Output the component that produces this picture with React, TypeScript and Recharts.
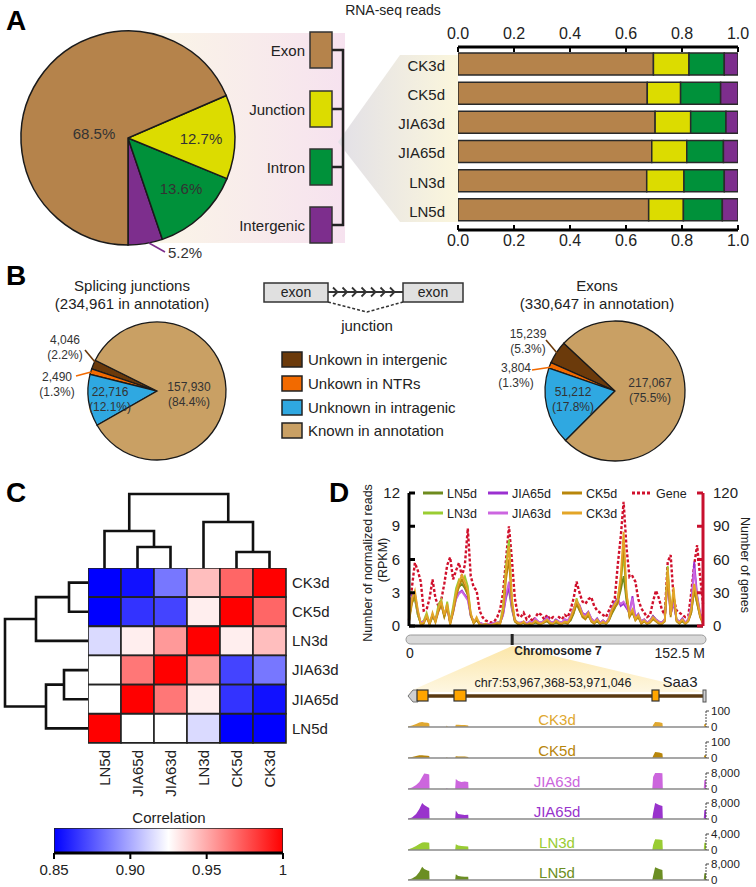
import React from 'react';
import {
  PieChart, Pie, Cell, BarChart, Bar, XAxis, YAxis, ComposedChart, Line,
  ScatterChart, Scatter, AreaChart, Area, ReferenceLine,
} from 'recharts';

const FONT = "'Liberation Sans', Arial, Helvetica, sans-serif";
const INK = '#222';

/* ---------------- Panel A data ---------------- */
const readTypes = ['Exon', 'Junction', 'Intron', 'Intergenic'];
const readColors = ['#B5834B', '#DCDC00', '#00913A', '#7D2E8D'];
const overallPct = [68.5, 12.7, 13.6, 5.2];
const samplesA = ['CK3d', 'CK5d', 'JIA63d', 'JIA65d', 'LN3d', 'LN5d'];
const exonFrac = [0.698, 0.676, 0.704, 0.692, 0.674, 0.681];
const junctionFrac = [0.127, 0.119, 0.127, 0.125, 0.133, 0.124];
const intronFrac = [0.126, 0.143, 0.126, 0.131, 0.144, 0.139];
const intergenicFrac = [0.049, 0.062, 0.043, 0.052, 0.049, 0.056];
const fracTicks = [0, 0.2, 0.4, 0.6, 0.8, 1.0];

/* ---------------- Panel B data ---------------- */
const novelCats = ['Unkown in intergenic', 'Unkown in NTRs', 'Unknown in intragenic', 'Known in annotation'];
const novelColors = ['#6B3A0B', '#F26A00', '#2FA8E1', '#C9A064'];
const junctionCounts = [4046, 2490, 22716, 157930];
const exonCounts = [15239, 3804, 51212, 217067];

/* ---------------- Panel C data ---------------- */
const heatRows = ['CK3d', 'CK5d', 'LN3d', 'JIA63d', 'JIA65d', 'LN5d'];
const heatCols = ['LN5d', 'JIA65d', 'JIA63d', 'LN3d', 'CK5d', 'CK3d'];
const corrCK3d = [0.85, 0.855, 0.885, 0.944, 0.97, 1.0];
const corrCK5d = [0.85, 0.865, 0.87, 0.93, 1.0, 0.97];
const corrLN3d = [0.914, 0.93, 0.955, 1.0, 0.93, 0.944];
const corrJIA63d = [0.925, 0.965, 1.0, 0.955, 0.87, 0.885];
const corrJIA65d = [0.925, 1.0, 0.965, 0.93, 0.865, 0.855];
const corrLN5d = [1.0, 0.925, 0.925, 0.914, 0.85, 0.85];
const corrMatrix = [corrCK3d, corrCK5d, corrLN3d, corrJIA63d, corrJIA65d, corrLN5d];
const colorbarRange = [0.85, 1];
const colorbarTicks = [0.85, 0.9, 0.95, 1];
const topTreeMerges: [string, string, number][] = [
  ['JIA65d', 'JIA63d', 2.1], ['LN5d', 'm0', 3.7], ['CK5d', 'CK3d', 1.6], ['LN3d', 'm2', 4.6], ['m1', 'm3', 7.4],
];
const leftTreeMerges: [string, string, number][] = [
  ['CK3d', 'CK5d', 1.9], ['m0', 'LN3d', 5.2], ['JIA63d', 'JIA65d', 2.4], ['m2', 'LN5d', 4.2], ['m1', 'm3', 8.3],
];

/* ---------------- Panel D data ---------------- */
const geneCounts = [
  5, 35, 57, 50, 40, 14, 15, 25, 42, 25,
  18, 24, 38, 55, 62, 42, 50, 57, 45, 55,
  88, 45, 35, 32, 14, 8, 5, 4, 3, 4,
  8, 15, 30, 60, 90, 60, 25, 10, 8, 12,
  6, 9, 4, 8, 12, 10, 6, 10, 6, 8,
  5, 8, 6, 10, 8, 15, 25, 40, 30, 22,
  20, 24, 26, 18, 14, 12, 10, 8, 14, 20,
  25, 55, 80, 112, 70, 44, 45, 40, 24, 16,
  12, 8, 10, 22, 32, 25, 15, 10, 58, 64,
  25, 14, 12, 10, 8, 9, 30, 55, 73, 45, 20,
];
const readsCK3d = [
  0.5, 2.5, 3.2, 1.5, 0.2, 0.3, 1.0, 0.2, 1.2, 0.4,
  1.6, 2.2, 1.0, 2.0, 0.2, 1.5, 3.0, 4.0, 4.6, 4.0,
  3.2, 1.2, 0.3, 0.8, 0.2, 0.1, 0.2, 0.1, 0.1, 0.2,
  0.3, 0.2, 1.5, 5.0, 7.2, 2.5, 0.5, 0.3, 0.2, 0.4,
  0.1, 0.3, 0.2, 0.5, 0.3, 0.2, 0.4, 0.6, 0.3, 0.2,
  0.5, 0.3, 0.2, 0.4, 0.3, 0.8, 1.5, 2.3, 1.8, 1.0,
  0.8, 1.2, 0.5, 0.3, 0.6, 0.2, 0.4, 0.2, 0.6, 1.5,
  2.0, 2.4, 4.5, 8.5, 3.0, 1.0, 1.5, 0.6, 1.0, 0.3,
  0.5, 0.2, 0.4, 0.8, 0.5, 0.3, 0.2, 0.5, 5.2, 1.0,
  3.5, 0.5, 0.3, 0.6, 0.2, 0.5, 1.5, 3.8, 2.5, 1.0, 0.3,
];
const readsCK5d = [
  0.4, 2.0, 2.8, 1.2, 0.1, 0.2, 0.8, 0.1, 1.0, 0.3,
  1.3, 1.9, 0.8, 1.7, 0.1, 1.2, 2.6, 3.6, 4.2, 3.6,
  2.8, 1.0, 0.2, 0.6, 0.1, 0.1, 0.1, 0.1, 0.1, 0.1,
  0.2, 0.2, 1.2, 4.2, 6.0, 2.0, 0.4, 0.2, 0.2, 0.3,
  0.1, 0.2, 0.2, 0.4, 0.2, 0.2, 0.3, 0.5, 0.2, 0.2,
  0.4, 0.2, 0.2, 0.3, 0.2, 0.6, 1.2, 2.0, 1.5, 0.8,
  0.6, 1.0, 0.4, 0.2, 0.5, 0.2, 0.3, 0.2, 0.5, 1.2,
  1.7, 2.0, 3.8, 7.5, 2.6, 0.8, 1.3, 0.5, 0.8, 0.2,
  0.4, 0.2, 0.3, 0.6, 0.4, 0.2, 0.2, 0.4, 4.5, 0.8,
  3.0, 0.4, 0.2, 0.5, 0.2, 0.4, 1.2, 3.3, 2.1, 0.8, 0.2,
];
const readsLN3d = [
  0.8, 3.0, 2.6, 1.0, 0.3, 0.5, 1.2, 0.3, 0.9, 0.6,
  1.9, 2.4, 0.8, 2.2, 0.4, 1.8, 3.4, 4.2, 4.0, 4.5,
  3.6, 1.0, 0.4, 0.6, 0.3, 0.1, 0.2, 0.1, 0.2, 0.2,
  0.3, 0.4, 1.8, 5.5, 7.8, 2.2, 0.6, 0.3, 0.2, 0.3,
  0.2, 0.3, 0.3, 0.4, 0.3, 0.3, 0.5, 0.5, 0.3, 0.3,
  0.4, 0.3, 0.3, 0.5, 0.4, 0.7, 1.3, 2.5, 1.6, 1.1,
  0.9, 1.0, 0.6, 0.4, 0.5, 0.3, 0.5, 0.3, 0.7, 1.3,
  1.8, 2.6, 4.0, 6.3, 2.8, 1.2, 1.4, 0.8, 0.9, 0.4,
  0.6, 0.3, 0.5, 0.9, 0.6, 0.4, 0.3, 0.6, 5.4, 1.2,
  2.8, 0.6, 0.4, 0.5, 0.3, 0.6, 1.4, 3.5, 2.2, 1.1, 0.4,
];
const readsLN5d = [
  0.6, 2.2, 2.4, 1.0, 0.2, 0.4, 0.9, 0.2, 0.8, 0.5,
  1.5, 2.0, 0.9, 1.8, 0.3, 1.4, 2.8, 3.5, 3.8, 3.4,
  2.8, 0.9, 0.3, 0.5, 0.2, 0.1, 0.1, 0.1, 0.1, 0.2,
  0.2, 0.3, 1.2, 3.0, 3.2, 1.5, 0.4, 0.2, 0.2, 0.3,
  0.1, 0.2, 0.2, 0.3, 0.2, 0.2, 0.4, 0.4, 0.2, 0.2,
  0.3, 0.2, 0.2, 0.4, 0.3, 0.5, 1.1, 2.0, 1.4, 0.9,
  0.7, 0.9, 0.5, 0.3, 0.4, 0.2, 0.4, 0.2, 0.5, 1.1,
  1.6, 2.2, 3.2, 4.5, 2.2, 0.9, 1.2, 0.6, 0.8, 0.3,
  0.5, 0.2, 0.4, 0.7, 0.5, 0.3, 0.2, 0.5, 4.8, 1.0,
  2.5, 0.5, 0.3, 0.4, 0.2, 0.5, 1.2, 3.2, 2.0, 0.9, 0.3,
];
const readsJIA65d = [
  0.7, 2.8, 3.0, 1.3, 0.3, 0.4, 0.8, 0.3, 1.0, 0.5,
  1.4, 2.0, 1.1, 1.6, 0.3, 1.3, 2.5, 3.0, 3.2, 2.8,
  2.5, 1.0, 0.4, 0.6, 0.3, 0.2, 0.2, 0.2, 0.2, 0.3,
  0.3, 0.3, 1.0, 2.5, 3.5, 1.8, 0.5, 0.3, 0.3, 0.4,
  0.2, 0.4, 0.3, 0.6, 0.4, 0.3, 0.5, 0.8, 0.4, 0.3,
  0.6, 0.4, 0.3, 0.6, 0.5, 0.9, 1.6, 2.2, 1.9, 1.2,
  1.0, 1.3, 0.7, 0.4, 0.7, 0.3, 0.5, 0.3, 0.7, 1.6,
  2.2, 2.5, 1.8, 2.0, 1.6, 1.2, 2.7, 0.8, 1.1, 0.4,
  0.6, 0.3, 0.5, 0.9, 0.6, 0.4, 0.3, 0.6, 4.2, 1.1,
  2.0, 0.6, 0.4, 0.7, 0.3, 0.6, 1.8, 5.8, 2.8, 1.2, 0.4,
];
const readsJIA63d = [
  0.6, 2.6, 2.9, 1.2, 0.3, 0.4, 0.7, 0.3, 0.9, 0.5,
  1.3, 1.9, 1.0, 1.5, 0.3, 1.2, 2.4, 2.9, 3.1, 2.7,
  2.3, 0.9, 0.4, 0.6, 0.3, 0.2, 0.2, 0.2, 0.2, 0.3,
  0.3, 0.3, 1.0, 2.8, 4.0, 1.6, 0.5, 0.3, 0.3, 0.4,
  0.2, 0.4, 0.3, 0.7, 0.4, 0.3, 0.5, 0.7, 0.4, 0.3,
  0.5, 0.4, 0.3, 0.6, 0.5, 0.9, 1.5, 2.1, 1.8, 1.1,
  0.9, 1.2, 0.7, 0.4, 0.6, 0.3, 0.5, 0.3, 0.7, 1.5,
  2.0, 2.3, 2.0, 2.2, 1.8, 1.1, 2.5, 0.7, 1.0, 0.4,
  0.6, 0.3, 0.5, 0.8, 0.6, 0.4, 0.3, 0.6, 4.0, 1.0,
  2.2, 0.6, 0.4, 0.6, 0.3, 0.6, 1.7, 5.2, 2.6, 1.1, 0.4,
];
const readTicks = [0, 3, 6, 9, 12];
const geneTicks = [0, 30, 60, 90, 120];
const chromLengthMb = 152.5;
const locusStart = 53967368;
const locusEnd = 53971046;

/* coverage tracks (bp offsets from locus start) */
const trackPos = [0, 50, 100, 140, 175, 200, 240, 262, 266, 470, 480, 490, 582, 590, 620, 660, 700, 743, 747, 3015, 3025, 3050, 3100, 3140, 3145, 3650, 3658, 3678];
const covCK3d = [3, 9, 19, 28, 31, 28, 26, 22, 0, 0, 9, 0, 0, 14, 14, 12, 12, 9, 0, 0, 12, 31, 30, 25, 0, 0, 19, 19];
const covCK5d = [2, 6, 12, 17, 17, 16, 14, 12, 0, 0, 5, 0, 0, 11, 10, 9, 9, 6, 0, 0, 12, 37, 34, 28, 0, 0, 17, 17];
const covJIA63d = [150, 750, 2000, 3500, 6000, 7750, 7500, 7250, 0, 0, 500, 0, 0, 5000, 4000, 3500, 3750, 3500, 0, 0, 6000, 8000, 8000, 7900, 0, 0, 4500, 4500];
const covJIA65d = [150, 750, 2500, 5000, 8000, 7000, 6000, 5500, 0, 0, 0, 0, 0, 4250, 2500, 2250, 2000, 2100, 0, 0, 3000, 8000, 7000, 6500, 0, 0, 4500, 4500];
const covLN3d = [125, 500, 1000, 1500, 1875, 1925, 1875, 1825, 0, 0, 0, 0, 0, 1425, 1125, 1000, 950, 875, 0, 0, 1250, 2675, 2625, 2500, 0, 0, 1825, 1825];
const covLN5d = [150, 750, 2000, 4000, 6650, 5500, 4750, 4500, 0, 0, 0, 0, 0, 2850, 2000, 1750, 1650, 1600, 0, 0, 2000, 6350, 5500, 5000, 0, 0, 3350, 3350];
const trackNames = ['CK3d', 'CK5d', 'JIA63d', 'JIA65d', 'LN3d', 'LN5d'];
const trackMax = [100, 100, 8000, 8000, 4000, 8000];
const trackCov = [covCK3d, covCK5d, covJIA63d, covJIA65d, covLN3d, covLN5d];

/* ---------------- styles ---------------- */
const seriesColor: Record<string, string> = {
  LN5d: '#6E8B1E', LN3d: '#9ACD32', JIA65d: '#9B30D0', JIA63d: '#CC66E0', CK5d: '#B8860B', CK3d: '#E3A527', Gene: '#D0102C',
};
const trackBaseY = [727, 758, 789, 819, 850, 880];
const trackLabelColor = ['#E0A830', '#B8860B', '#CC66DD', '#9933CC', '#99CC33', '#6B8E23'];

const abs = (left: number, top: number): React.CSSProperties => ({ position: 'absolute', left, top });

/* ---------------- derived tables ---------------- */
const pieAData = [3, 2, 1, 0].map((k) => ({ name: readTypes[k], value: overallPct[k], color: readColors[k] }));
const barData = samplesA.map((name, k) => ({
  name, Exon: exonFrac[k], Junction: junctionFrac[k], Intron: intronFrac[k], Intergenic: intergenicFrac[k],
}));
const pieB1Data = novelCats.map((name, k) => ({ name, value: junctionCounts[k] }));
const pieB2Data = novelCats.map((name, k) => ({ name, value: exonCounts[k] }));
const heatData = heatRows.map((row) => {
  const o: any = { row };
  heatCols.forEach((_, ci) => { o['c' + ci] = 1; });
  return o;
});
const colorbarData = [{ name: 'Correlation', range: colorbarRange }];
const dSeries = [
  { key: 'LN5d', vals: readsLN5d }, { key: 'LN3d', vals: readsLN3d },
  { key: 'JIA65d', vals: readsJIA65d }, { key: 'JIA63d', vals: readsJIA63d },
  { key: 'CK5d', vals: readsCK5d }, { key: 'CK3d', vals: readsCK3d },
];
const dData = geneCounts.map((g, i) => {
  const o: any = { i, gene: g };
  dSeries.forEach((s) => { o[s.key] = s.vals[i]; });
  return o;
});
const trackData = trackPos.map((pos, k) => {
  const o: any = { pos };
  trackNames.forEach((n, t) => { o[n] = trackCov[t][k]; });
  return o;
});

function buildTree(leaves: string[], merges: [string, string, number][]) {
  const pos: Record<string, number> = {};
  const ht: Record<string, number> = {};
  leaves.forEach((l, i) => { pos[l] = i + 0.5; ht[l] = 0; });
  return merges.map(([a, b, h], k) => {
    const seg = [
      { p: pos[a], h: ht[a] }, { p: pos[a], h }, { p: pos[b], h }, { p: pos[b], h: ht[b] },
    ];
    pos['m' + k] = (pos[a] + pos[b]) / 2;
    ht['m' + k] = h;
    return seg;
  });
}
const topTree = buildTree(heatCols, topTreeMerges).map((s) => s.map((q) => ({ x: q.p, y: q.h })));
const leftTree = buildTree(heatRows, leftTreeMerges).map((s) => s.map((q) => ({ x: q.h, y: q.p })));

function corrColor(v: number) {
  const mid = 0.925;
  if (v <= mid) {
    const t = Math.max(0, (v - 0.85) / (mid - 0.85));
    const c = Math.round(255 * t);
    return `rgb(${c},${c},255)`;
  }
  const t = Math.min(1, (v - mid) / (1 - mid));
  const c = Math.round(255 * (1 - t));
  return `rgb(255,${c},${c})`;
}

/* ---------------- labels & ticks ---------------- */
type Off = { dx: number; dy: number; line?: [number, number, number, number]; anchor?: 'start' | 'middle' | 'end' };
const pieALabelOff: Off[] = [
  { dx: 40, dy: 120, line: [21, 105, 37, 114], anchor: 'start' },
  { dx: 53, dy: 55.5 },
  { dx: 73, dy: 5.5 },
  { dx: -34, dy: 0.5 },
];
const pieB1Off: Off[] = [
  { dx: -92, dy: -47.5, line: [-72, -41, -62, -29] },
  { dx: -100, dy: -10.5, line: [-81, -15, -66, -19] },
  { dx: -47, dy: 4.5 },
  { dx: 32, dy: -0.5 },
];
const pieB2Off: Off[] = [
  { dx: -87, dy: -53.5, line: [-69, -51, -58, -38] },
  { dx: -99, dy: -19.5, line: [-83, -21, -63, -24] },
  { dx: -42, dy: 4.5 },
  { dx: 35, dy: -4.5 },
];

const pieALabel = (p: any) => {
  const o = pieALabelOff[p.index];
  const d = pieAData[p.index];
  return (
    <g>
      {o.line && (
        <line x1={p.cx + o.line[0]} y1={p.cy + o.line[1]} x2={p.cx + o.line[2]} y2={p.cy + o.line[3]} stroke={d.color} strokeWidth={1.6} />
      )}
      <text x={p.cx + o.dx} y={p.cy + o.dy} textAnchor={o.anchor || 'middle'} fontSize={15} fill="#333" fontFamily={FONT}>
        {d.value.toFixed(1)}%
      </text>
    </g>
  );
};

const makePieBLabel = (offs: Off[], counts: number[]) => (p: any) => {
  const o = offs[p.index];
  const total = counts.reduce((a, b) => a + b, 0);
  const v = counts[p.index];
  const pct = ((v / total) * 100).toFixed(1);
  return (
    <g>
      {o.line && (
        <line x1={p.cx + o.line[0]} y1={p.cy + o.line[1]} x2={p.cx + o.line[2]} y2={p.cy + o.line[3]} stroke={novelColors[p.index]} strokeWidth={1.6} />
      )}
      <text x={p.cx + o.dx} y={p.cy + o.dy} textAnchor="middle" fontSize={12} fill="#333" fontFamily={FONT}>
        {v.toLocaleString('en-US')}
      </text>
      <text x={p.cx + o.dx} y={p.cy + o.dy + 15.5} textAnchor="middle" fontSize={12} fill="#333" fontFamily={FONT}>
        ({pct}%)
      </text>
    </g>
  );
};

const FracTickTop = (p: any) => {
  const { x, y, payload } = p;
  const ay = y + 9;
  return (
    <g>
      <line x1={x} x2={x} y1={ay} y2={ay + 5} stroke="#000" strokeWidth={2} />
      <text x={x} y={ay - 8.5} textAnchor="middle" fontSize={16} fill={INK} fontFamily={FONT}>{Number(payload.value).toFixed(1)}</text>
    </g>
  );
};
const FracTickBottom = (p: any) => {
  const { x, y, payload } = p;
  const ay = y - 9;
  return (
    <g>
      <line x1={x} x2={x} y1={ay - 5} y2={ay} stroke="#000" strokeWidth={2} />
      <text x={x} y={ay + 15.7} textAnchor="middle" fontSize={16} fill={INK} fontFamily={FONT}>{Number(payload.value).toFixed(1)}</text>
    </g>
  );
};
const ReadsTick = (p: any) => {
  const { x, y, payload } = p;
  const ax = x + 9;
  return (
    <g>
      <line x1={ax} x2={ax + 6} y1={y} y2={y} stroke="#000" strokeWidth={3} />
      <text x={ax - 9} y={y + 5} textAnchor="end" fontSize={15} fill={INK} fontFamily={FONT}>{payload.value}</text>
    </g>
  );
};
const GenesTick = (p: any) => {
  const { x, y, payload } = p;
  const ax = x - 10;
  return (
    <g>
      <line x1={ax - 6} x2={ax} y1={y} y2={y} stroke="#C8102E" strokeWidth={3} />
      <text x={ax + 10} y={y + 5} textAnchor="start" fontSize={15} fill={INK} fontFamily={FONT}>{payload.value}</text>
    </g>
  );
};
const ColTick = (p: any) => {
  const { x, y, payload } = p;
  const label = heatCols[Math.round(payload.value - 0.5)];
  return (
    <text x={x} y={y} dy={5} transform={`rotate(-90 ${x} ${y})`} textAnchor="end" fontSize={15} fill={INK} fontFamily={FONT}>{label}</text>
  );
};

/* ---------------- background & overlay ---------------- */
const markX = 406 + ((locusStart / 1e6) / chromLengthMb) * 300;

const Backdrop = () => (
  <svg width={756} height={887} style={{ position: 'absolute', left: 0, top: 0 }}>
    <defs>
      <linearGradient id="bgA" x1="0" y1="0" x2="1" y2="0">
        <stop offset="0" stopColor="#FBF8E6" />
        <stop offset="1" stopColor="#F6E2EF" />
      </linearGradient>
      <linearGradient id="wedgeA" x1="0" y1="0" x2="1" y2="0">
        <stop offset="0" stopColor="#E2E0E7" />
        <stop offset="1" stopColor="#FBF6DC" />
      </linearGradient>
      <linearGradient id="corrGrad" x1="0" y1="0" x2="1" y2="0">
        <stop offset="0" stopColor="#0000FF" />
        <stop offset="0.5" stopColor="#FFFFFF" />
        <stop offset="1" stopColor="#FF0000" />
      </linearGradient>
      <linearGradient id="coneD" x1="0" y1="0" x2="0" y2="1">
        <stop offset="0" stopColor="#FCE6A8" />
        <stop offset="1" stopColor="#FEF7E2" />
      </linearGradient>
    </defs>
    <rect x={128} y={33} width={217} height={210} fill="url(#bgA)" />
    <polygon points="338,142 400,55 458,55 458,222 400,222" fill="url(#wedgeA)" />
    <polygon points={`${markX},646 408,692 706,692`} fill="url(#coneD)" />
  </svg>
);

const legendD = [
  { name: 'LN5d', col: 0, row: 0 }, { name: 'JIA65d', col: 1, row: 0 }, { name: 'CK5d', col: 2, row: 0 }, { name: 'Gene', col: 3, row: 0 },
  { name: 'LN3d', col: 0, row: 1 }, { name: 'JIA63d', col: 1, row: 1 }, { name: 'CK3d', col: 2, row: 1 },
];
const legendDColX = [423, 488, 562, 632];
const legendABoxY = [32, 91, 149, 207];
const legendBBoxY = [352, 376, 400, 423];

const Overlay = () => (
  <svg width={756} height={887} style={{ position: 'absolute', left: 0, top: 0, pointerEvents: 'none' }} fontFamily={FONT}>
    {/* panel letters */}
    <text x={6} y={30} fontSize={28} fontWeight="bold" fill="#000">A</text>
    <text x={6} y={285} fontSize={28} fontWeight="bold" fill="#000">B</text>
    <text x={6} y={502} fontSize={28} fontWeight="bold" fill="#000">C</text>
    <text x={329} y={502} fontSize={28} fontWeight="bold" fill="#000">D</text>

    {/* A legend + bracket */}
    <text x={393} y={15} fontSize={14} textAnchor="middle" fill={INK}>RNA-seq reads</text>
    {readTypes.map((t, k) => (
      <g key={t}>
        <rect x={310} y={legendABoxY[k]} width={22} height={36} fill={readColors[k]} stroke="#333" strokeWidth={1.5} />
        <text x={305} y={legendABoxY[k] + 23.5} fontSize={15} textAnchor="end" fill={INK}>{t}</text>
        <line x1={332} x2={344} y1={legendABoxY[k] + 18} y2={legendABoxY[k] + 18} stroke="#222" strokeWidth={2.5} />
      </g>
    ))}
    <line x1={343} x2={343} y1={legendABoxY[0] + 17} y2={legendABoxY[3] + 19} stroke="#222" strokeWidth={2.5} />

    {/* B titles */}
    <text x={132} y={290.5} fontSize={15} textAnchor="middle" fill={INK}>Splicing junctions</text>
    <text x={132} y={308.5} fontSize={15} textAnchor="middle" fill={INK}>(234,961 in annotation)</text>
    <text x={597} y={290.5} fontSize={15} textAnchor="middle" fill={INK}>Exons</text>
    <text x={597} y={308.5} fontSize={15} textAnchor="middle" fill={INK}>(330,647 in annotation)</text>

    {/* exon-junction diagram */}
    <line x1={328} x2={403} y1={292} y2={292} stroke="#333" strokeWidth={2} />
    {[0, 1, 2, 3, 4, 5, 6].map((k) => {
      const cx = 336 + k * 9.5;
      return <polyline key={k} points={`${cx - 3},287.5 ${cx + 1.5},292 ${cx - 3},296.5`} fill="none" stroke="#333" strokeWidth={1.8} />;
    })}
    <rect x={264} y={283} width={64} height={19} fill="#E0E0E0" stroke="#333" strokeWidth={1.5} />
    <rect x={403} y={283} width={60} height={19} fill="#E0E0E0" stroke="#333" strokeWidth={1.5} />
    <text x={296} y={297} fontSize={14} textAnchor="middle" fill={INK}>exon</text>
    <text x={433} y={297} fontSize={14} textAnchor="middle" fill={INK}>exon</text>
    <polyline points="328,302 367,312 403,302" fill="none" stroke="#333" strokeWidth={1.5} strokeDasharray="3 2" />
    <text x={367} y={330.5} fontSize={15} textAnchor="middle" fill={INK}>junction</text>

    {/* B legend */}
    {novelCats.map((c, k) => (
      <g key={c}>
        <rect x={282} y={legendBBoxY[k]} width={20} height={15} fill={novelColors[k]} stroke="#222" strokeWidth={1.5} />
        <text x={308} y={legendBBoxY[k] + 12.5} fontSize={15} fill={INK}>{c}</text>
      </g>
    ))}

    {/* C colorbar title */}
    <text x={169} y={822.5} fontSize={15} textAnchor="middle" fill={INK}>Correlation</text>

    {/* D axis labels */}
    <text x={372} y={563} fontSize={12.5} textAnchor="middle" fill={INK} transform="rotate(-90 372 563)">Number of normalized reads</text>
    <text x={387} y={560} fontSize={12.5} textAnchor="middle" fill={INK} transform="rotate(-90 387 560)">(RPKM)</text>
    <text x={741} y={565} fontSize={12.5} textAnchor="middle" fill={INK} transform="rotate(90 741 565)">Number of genes</text>

    {/* D legend */}
    {legendD.map((l) => {
      const x = legendDColX[l.col];
      const y = 493 + l.row * 20;
      return (
        <g key={l.name}>
          <line x1={x} x2={x + 20} y1={y} y2={y} stroke={seriesColor[l.name]} strokeWidth={3} strokeDasharray={l.name === 'Gene' ? '3 2' : undefined} />
          <text x={x + 24} y={y + 4.5} fontSize={12.5} fill={INK}>{l.name}</text>
        </g>
      );
    })}

    {/* chromosome ideogram */}
    <rect x={406} y={635} width={300} height={9} rx={4.5} fill="#D9D9D9" stroke="#9A9A9A" strokeWidth={1} />
    <rect x={markX - 1.5} y={634} width={3} height={11} fill="#222" />
    <text x={410} y={658} fontSize={14} textAnchor="middle" fill={INK}>0</text>
    <text x={558} y={655} fontSize={12} fontWeight="bold" textAnchor="middle" fill={INK}>Chromosome 7</text>
    <text x={705} y={658} fontSize={14} textAnchor="end" fill={INK}>{chromLengthMb} M</text>

    {/* gene model */}
    <text x={553} y={687} fontSize={12.5} textAnchor="middle" fill={INK}>
      {`chr7:${locusStart.toLocaleString('en-US')}-${locusEnd.toLocaleString('en-US')}`}
    </text>
    <text x={680} y={687} fontSize={15} textAnchor="middle" fill={INK}>Saa3</text>
    <line x1={414} x2={704} y1={696} y2={696} stroke="#5A3A12" strokeWidth={3.5} />
    <polygon points="408,696 413,690 418,690 418,702 413,702" fill="#CFCFCF" stroke="#777" strokeWidth={1} />
    <rect x={703} y={690} width={3} height={12} fill="#CFCFCF" stroke="#555" strokeWidth={1} />
    <rect x={417} y={690} width={11} height={11} fill="#FFA500" stroke="#333" strokeWidth={1.2} />
    <rect x={454} y={690} width={12} height={11} fill="#FFA500" stroke="#333" strokeWidth={1.2} />
    <rect x={652} y={690} width={7} height={11} fill="#FFA500" stroke="#333" strokeWidth={1.2} />

    {/* track labels */}
    {trackNames.map((n, t) => (
      <text key={n} x={557} y={trackBaseY[t] - 2} fontSize={15} textAnchor="middle" fill={trackLabelColor[t]}>{n}</text>
    ))}
  </svg>
);

/* ---------------- App ---------------- */
export default function App() {
  const hideShape = () => <g />;
  return (
    <div style={{ position: 'absolute', left: 0, top: 0, width: 756, height: 887, background: '#fff', fontFamily: FONT, overflow: 'hidden' }}>
      <Backdrop />

      {/* Panel A: stacked bars */}
      <div style={abs(360, 0)}>
        <BarChart layout="vertical" width={396} height={260} data={barData} margin={{ top: 17, right: 18, bottom: 5, left: 8 }}>
          <XAxis xAxisId="top" orientation="top" type="number" domain={[0, 1]} allowDataOverflow ticks={fracTicks} height={30}
            axisLine={{ stroke: '#000', strokeWidth: 3 }} tickLine={false} tickSize={0} tickMargin={9} tick={FracTickTop} interval={0} />
          <XAxis xAxisId="bottom" orientation="bottom" type="number" domain={[0, 1]} allowDataOverflow ticks={fracTicks} height={25}
            axisLine={{ stroke: '#000', strokeWidth: 3 }} tickLine={false} tickSize={0} tickMargin={9} tick={FracTickBottom} interval={0} />
          <YAxis type="category" dataKey="name" width={90} axisLine={false} tickLine={false} tickSize={0} tickMargin={13}
            padding={{ top: 4, bottom: 4 }} tick={{ fontSize: 15, fill: INK, fontFamily: FONT }} />
          {readTypes.map((t, j) => (
            <Bar key={t} xAxisId="top" dataKey={t} stackId="r" fill={readColors[j]} stroke="#2a2a2a" strokeWidth={1.5} barSize={22} isAnimationActive={false} />
          ))}
          {/* invisible twin on the bottom axis so that axis receives a domain */}
          <Bar xAxisId="bottom" dataKey="Exon" stackId="b" fill="none" stroke="none" barSize={0} isAnimationActive={false} legendType="none" />
        </BarChart>
      </div>

      {/* Panel C: top dendrogram */}
      <div style={abs(88, 490)}>
        <ScatterChart width={198} height={78} margin={{ top: 0, right: 0, bottom: 0, left: 0 }}>
          <XAxis type="number" dataKey="x" domain={[0, 6]} hide />
          <YAxis type="number" dataKey="y" domain={[0, 7.8]} hide />
          {topTree.map((seg, k) => (
            <Scatter key={k} data={seg} fill="#111" line={{ stroke: '#111', strokeWidth: 2.6 }} shape={hideShape} isAnimationActive={false} />
          ))}
        </ScatterChart>
      </div>
      {/* Panel C: left dendrogram */}
      <div style={abs(0, 568)}>
        <ScatterChart width={88} height={175} margin={{ top: 0, right: 0, bottom: 0, left: 0 }}>
          <XAxis type="number" dataKey="x" domain={[0, 8.8]} reversed hide />
          <YAxis type="number" dataKey="y" domain={[0, 6]} reversed hide />
          {leftTree.map((seg, k) => (
            <Scatter key={k} data={seg} fill="#111" line={{ stroke: '#111', strokeWidth: 2.6 }} shape={hideShape} isAnimationActive={false} />
          ))}
        </ScatterChart>
      </div>
      {/* Panel C: heatmap */}
      <div style={abs(88, 568)}>
        <BarChart layout="vertical" width={258} height={230} data={heatData} margin={{ top: 0, right: 0, bottom: 0, left: 0 }} barCategoryGap={0}>
          <XAxis type="number" domain={[0, 6]} ticks={[0.5, 1.5, 2.5, 3.5, 4.5, 5.5]} interval={0} tick={ColTick}
            axisLine={false} tickLine={false} tickSize={0} tickMargin={7} height={55} />
          <YAxis type="category" dataKey="row" orientation="right" width={60} axisLine={false} tickLine={false} tickSize={0} tickMargin={6}
            tick={{ fontSize: 15, fill: INK, fontFamily: FONT }} />
          {heatCols.map((c, ci) => (
            <Bar key={c + ci} dataKey={'c' + ci} stackId="h" stroke="#222" strokeWidth={1.6} isAnimationActive={false}>
              {heatRows.map((r, ri) => (
                <Cell key={r} fill={corrColor(corrMatrix[ri][ci])} />
              ))}
            </Bar>
          ))}
        </BarChart>
      </div>
      {/* Panel C: colour bar */}
      <div style={abs(39, 828)}>
        <BarChart layout="vertical" width={259} height={62} data={colorbarData} margin={{ top: 0, right: 15, bottom: 0, left: 15 }} barCategoryGap={0}>
          <XAxis type="number" domain={colorbarRange} allowDataOverflow ticks={colorbarTicks} interval={0}
            tickFormatter={(v: number) => (v === 1 ? '1' : v.toFixed(2))}
            axisLine={{ stroke: '#000', strokeWidth: 3 }} tickLine={{ stroke: '#000', strokeWidth: 2 }} tickSize={6} tickMargin={5} height={37}
            tick={{ fontSize: 15, fill: INK, fontFamily: FONT }} />
          <YAxis type="category" dataKey="name" hide />
          <Bar dataKey="range" fill="url(#corrGrad)" stroke="#222" strokeWidth={1.5} isAnimationActive={false} />
        </BarChart>
      </div>

      {/* Panel D: genome-wide lines */}
      <div style={abs(340, 470)}>
        <ComposedChart width={416} height={170} data={dData} margin={{ top: 23, right: 8, bottom: 12, left: 29 }}>
          <XAxis type="number" dataKey="i" domain={[0, geneCounts.length - 1]} tick={false} tickLine={false}
            axisLine={{ stroke: '#000', strokeWidth: 3 }} height={2} />
          <YAxis yAxisId="reads" type="number" domain={[0, 12]} ticks={readTicks} interval={0} width={40}
            axisLine={{ stroke: '#000', strokeWidth: 3 }} tickLine={false} tickSize={0} tickMargin={9} tick={ReadsTick} />
          <YAxis yAxisId="genes" orientation="right" type="number" domain={[0, 120]} ticks={geneTicks} interval={0} width={45}
            axisLine={{ stroke: '#C8102E', strokeWidth: 3 }} tickLine={false} tickSize={0} tickMargin={10} tick={GenesTick} />
          <Line yAxisId="genes" dataKey="gene" type="linear" stroke={seriesColor.Gene} strokeWidth={2.4} strokeDasharray="3 2" dot={false} isAnimationActive={false} />
          {dSeries.map((s) => (
            <Line key={s.key} yAxisId="reads" dataKey={s.key} type="linear" stroke={seriesColor[s.key]} strokeWidth={1.8} dot={false} isAnimationActive={false} />
          ))}
        </ComposedChart>
      </div>

      {/* Panel D: coverage tracks */}
      {trackNames.map((n, t) => (
        <div key={n} style={abs(408, trackBaseY[t] - 21)}>
          <AreaChart width={342} height={26} data={trackData} margin={{ top: 5, right: 0, bottom: 5, left: 0 }}>
            <XAxis type="number" dataKey="pos" domain={[0, locusEnd - locusStart]} hide />
            <YAxis orientation="right" type="number" domain={[0, trackMax[t]]} ticks={[0, trackMax[t]]} interval={0} width={44}
              axisLine={{ stroke: '#444', strokeDasharray: '2 1' }} tickLine={{ stroke: '#444' }} tickSize={3} tickMargin={2}
              tick={{ fontSize: 11.5, fill: INK, fontFamily: FONT }} tickFormatter={(v: number) => v.toLocaleString('en-US')} />
            <ReferenceLine y={0} stroke="#8A8A8A" strokeWidth={1.6} />
            <Area dataKey={n} type="linear" stroke="none" fill={trackLabelColor[t]} fillOpacity={1} isAnimationActive={false} />
          </AreaChart>
        </div>
      ))}

      {/* Pies (A and B) */}
      <div style={abs(0, 0)}>
        <PieChart width={756} height={887} margin={{ top: 0, right: 0, bottom: 0, left: 0 }}>
          <Pie data={pieAData} dataKey="value" cx={128} cy={138} outerRadius={107} startAngle={-90} endAngle={270}
            stroke="#1a1a1a" strokeWidth={1.5} label={pieALabel} labelLine={false} isAnimationActive={false}>
            {pieAData.map((d) => <Cell key={d.name} fill={d.color} />)}
          </Pie>
          <Pie data={pieB1Data} dataKey="value" cx={157} cy={391} outerRadius={69} startAngle={153.5} endAngle={513.5}
            stroke="#1a1a1a" strokeWidth={1.3} label={makePieBLabel(pieB1Off, junctionCounts)} labelLine={false} isAnimationActive={false}>
            {pieB1Data.map((d, k) => <Cell key={d.name} fill={novelColors[k]} />)}
          </Pie>
          <Pie data={pieB2Data} dataKey="value" cx={615} cy={391} outerRadius={70} startAngle={137} endAngle={497}
            stroke="#1a1a1a" strokeWidth={1.3} label={makePieBLabel(pieB2Off, exonCounts)} labelLine={false} isAnimationActive={false}>
            {pieB2Data.map((d, k) => <Cell key={d.name} fill={novelColors[k]} />)}
          </Pie>
        </PieChart>
      </div>

      <Overlay />
    </div>
  );
}
